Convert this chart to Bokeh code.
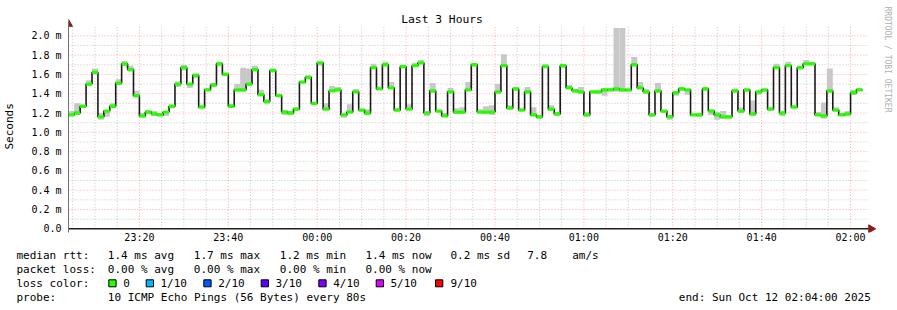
import numpy as np
import pandas as pd
from bokeh.plotting import figure
from bokeh.layouts import column
from bokeh.core.properties import value
from bokeh.models import (Range1d, FixedTicker, DatetimeTickFormatter, CustomJSTickFormatter,
                          ColumnDataSource)
from bokeh.embed import file_html
from bokeh.resources import INLINE

# ---------------- data ----------------
START = "2025-10-11 23:04:00"
STEP_SECONDS = 80

median_ms = [
    1.18, 1.20, 1.27, 1.50, 1.62, 1.16, 1.22, 1.27, 1.51, 1.71,
    1.65, 1.38, 1.17, 1.21, 1.19, 1.18, 1.21, 1.27, 1.50, 1.67,
    1.50, 1.59, 1.26, 1.44, 1.49, 1.71, 1.60, 1.27, 1.44, 1.44,
    1.50, 1.65, 1.39, 1.32, 1.64, 1.38, 1.21, 1.20, 1.24, 1.52,
    1.57, 1.30, 1.72, 1.24, 1.43, 1.44, 1.18, 1.21, 1.42, 1.23,
    1.20, 1.67, 1.45, 1.70, 1.46, 1.23, 1.68, 1.24, 1.69, 1.72,
    1.20, 1.43, 1.22, 1.17, 1.42, 1.21, 1.21, 1.44, 1.70, 1.21,
    1.21, 1.21, 1.42, 1.69, 1.25, 1.45, 1.23, 1.42, 1.18, 1.16,
    1.68, 1.24, 1.19, 1.69, 1.46, 1.43, 1.42, 1.18, 1.42, 1.42,
    1.44, 1.44, 1.45, 1.44, 1.44, 1.70, 1.46, 1.42, 1.18, 1.43,
    1.22, 1.16, 1.41, 1.45, 1.44, 1.18, 1.18, 1.45, 1.22, 1.18,
    1.16, 1.16, 1.43, 1.22, 1.44, 1.19, 1.42, 1.44, 1.24, 1.67,
    1.20, 1.69, 1.26, 1.67, 1.71, 1.71, 1.18, 1.17, 1.43, 1.23,
    1.18, 1.19, 1.41, 1.44,
]

smoke_lo_ms = [
    1.17, 1.18, 1.26, 1.48, 1.60, 1.13, 1.16, 1.25, 1.49, 1.69,
    1.64, 1.36, 1.15, 1.19, 1.17, 1.17, 1.17, 1.25, 1.47, 1.64,
    1.46, 1.56, 1.25, 1.43, 1.47, 1.69, 1.59, 1.26, 1.42, 1.42,
    1.48, 1.64, 1.37, 1.29, 1.63, 1.37, 1.18, 1.18, 1.22, 1.51,
    1.56, 1.29, 1.69, 1.23, 1.42, 1.42, 1.15, 1.20, 1.41, 1.22,
    1.18, 1.66, 1.44, 1.69, 1.45, 1.22, 1.67, 1.23, 1.68, 1.71,
    1.17, 1.41, 1.21, 1.16, 1.41, 1.19, 1.19, 1.43, 1.69, 1.20,
    1.19, 1.18, 1.40, 1.68, 1.24, 1.43, 1.22, 1.40, 1.17, 1.14,
    1.67, 1.22, 1.17, 1.67, 1.45, 1.41, 1.40, 1.16, 1.40, 1.40,
    1.38, 1.43, 1.42, 1.42, 1.42, 1.69, 1.45, 1.40, 1.16, 1.41,
    1.20, 1.13, 1.38, 1.43, 1.39, 1.17, 1.16, 1.43, 1.18, 1.13,
    1.14, 1.14, 1.41, 1.20, 1.42, 1.17, 1.39, 1.42, 1.22, 1.66,
    1.17, 1.68, 1.25, 1.65, 1.70, 1.70, 1.17, 1.14, 1.41, 1.22,
    1.17, 1.17, 1.39, 1.43,
]

smoke_hi_ms = [
    1.22, 1.30, 1.28, 1.54, 1.66, 1.20, 1.23, 1.30, 1.55, 1.74,
    1.69, 1.43, 1.20, 1.23, 1.22, 1.20, 1.22, 1.28, 1.53, 1.70,
    1.51, 1.61, 1.28, 1.46, 1.51, 1.73, 1.62, 1.29, 1.50, 1.67,
    1.66, 1.69, 1.44, 1.34, 1.66, 1.40, 1.23, 1.22, 1.26, 1.53,
    1.59, 1.31, 1.73, 1.30, 1.48, 1.47, 1.19, 1.29, 1.45, 1.24,
    1.24, 1.71, 1.47, 1.73, 1.52, 1.25, 1.70, 1.29, 1.72, 1.75,
    1.21, 1.51, 1.23, 1.20, 1.46, 1.25, 1.26, 1.52, 1.72, 1.24,
    1.27, 1.28, 1.50, 1.81, 1.28, 1.47, 1.25, 1.47, 1.26, 1.18,
    1.71, 1.28, 1.21, 1.71, 1.49, 1.45, 1.47, 1.21, 1.43, 1.43,
    1.46, 1.46, 2.08, 2.08, 1.45, 1.78, 1.52, 1.45, 1.20, 1.51,
    1.23, 1.18, 1.42, 1.47, 1.45, 1.19, 1.20, 1.47, 1.24, 1.21,
    1.22, 1.18, 1.45, 1.26, 1.45, 1.33, 1.43, 1.45, 1.26, 1.71,
    1.21, 1.73, 1.28, 1.69, 1.75, 1.73, 1.21, 1.31, 1.66, 1.26,
    1.20, 1.22, 1.44, 1.46,
]

x_tick_times = ["2025-10-11 23:20", "2025-10-11 23:40", "2025-10-12 00:00",
                "2025-10-12 00:20", "2025-10-12 00:40", "2025-10-12 01:00",
                "2025-10-12 01:20", "2025-10-12 01:40", "2025-10-12 02:00"]
y_ticks = [0.0, 0.2, 0.4, 0.6, 0.8, 1.0, 1.2, 1.4, 1.6, 1.8, 2.0]
y_minor_ticks = [0.1, 0.3, 0.5, 0.7, 0.9, 1.1, 1.3, 1.5, 1.7, 1.9]

legend_rows = [
    ["median rtt:", "1.4 ms avg", "1.7 ms max", "1.2 ms min", "1.4 ms now", "0.2 ms sd", "7.8", "am/s"],
    ["packet loss:", "0.00 % avg", "0.00 % max", "0.00 % min", "0.00 % now"],
    ["loss color:"],
    ["probe:", "10 ICMP Echo Pings (56 Bytes) every 80s", "end: Sun Oct 12 02:04:00 2025"],
]
loss_labels = ["0", "1/10", "2/10", "3/10", "4/10", "5/10", "9/10"]
loss_colors = ["#26ff00", "#00b8ff", "#0059ff", "#5e00ff", "#7e00ff", "#dd00ff", "#ff0000"]
title_text = "Last 3 Hours"
y_label = "Seconds"
side_text = "RRDTOOL / TOBI OETIKER"

# ---------------- layout (canvas pixels) ----------------
W, H = 897, 310
H1 = 248                       # main figure height; legend figure below
FL, FT, FB = 67, 0, 232        # main frame edges
CL, CR, CT, C0 = 67, 867, 25, 228   # rrd canvas: left, right, top, zero line
X0_PX = 66.8                   # pixel of START
PX_PER_MIN = 4.45
PX_PER_MS = 96.5
Y0_PX = 228.3
FONT = "DejaVu Sans Mono"
MIN_MS = 60000.0

t0_ms = pd.Timestamp(START).value / 1e6


def tx(px):
    return t0_ms + (px - X0_PX) / PX_PER_MIN * MIN_MS


def vy(py):
    return (Y0_PX - py) / PX_PER_MS


n = len(median_ms)
starts = np.array([t0_ms + i * STEP_SECONDS * 1000.0 for i in range(n)])
ends = starts + STEP_SECONDS * 1000.0
med = np.array(median_ms)

p = figure(width=W, height=H1, x_axis_type="datetime", title=None,
           x_range=Range1d(tx(FL), tx(W)), y_range=Range1d(vy(FB), vy(FT)),
           output_backend="svg", toolbar_location=None,
           min_border_left=FL, min_border_right=0,
           min_border_top=0, min_border_bottom=H1 - FB,
           background_fill_color="white", border_fill_color="white")
p.frame_align = False
p.outline_line_color = None
p.xgrid.visible = False
p.ygrid.visible = False

# axes
x_major = [pd.Timestamp(s).value / 1e6 for s in x_tick_times]
p.xaxis.ticker = FixedTicker(ticks=x_major)
p.yaxis.ticker = FixedTicker(ticks=y_ticks)
fmt = "%H:%M"
p.xaxis.formatter = DatetimeTickFormatter(seconds=fmt, minsec=fmt, minutes=fmt, hourmin=fmt,
                                          hours=fmt, days=fmt, boundary_scaling=False)
p.yaxis.formatter = CustomJSTickFormatter(code="return tick < 1e-9 ? '0.0' : tick.toFixed(1) + ' m';")
for ax in (p.xaxis, p.yaxis):
    ax.major_tick_out = 0
    ax.major_tick_in = 0
    ax.minor_tick_out = 0
    ax.minor_tick_in = 0
    ax.major_label_text_font = FONT
    ax.major_label_text_font_size = "10px"
    ax.major_label_text_color = "#000000"
p.xaxis.axis_line_color = None
p.xaxis.major_label_standoff = -1
p.yaxis.bounds = (vy(232), vy(21))
p.yaxis.axis_line_color = "#707070"
p.yaxis.major_label_standoff = 7
p.yaxis.axis_label = y_label + "   "
p.yaxis.axis_label_text_font = FONT
p.yaxis.axis_label_text_font_size = "11px"
p.yaxis.axis_label_text_font_style = "normal"
p.yaxis.axis_label_text_color = "#000000"
p.yaxis.axis_label_standoff = 12

# grid lines (limited to the rrd canvas)
x_minor = [t0_ms + m * MIN_MS for m in range(1, 181) if (m + 4) % 5 == 0 and (m + 4) % 20 != 0]
p.segment(x0=x_minor, y0=[0] * len(x_minor), x1=x_minor, y1=[vy(CT)] * len(x_minor),
          line_color="#a0a0a0", line_alpha=0.6, line_dash="1 2", line_width=1)
p.segment(x0=[tx(CL)] * len(y_minor_ticks), y0=y_minor_ticks, x1=[tx(CR)] * len(y_minor_ticks), y1=y_minor_ticks,
          line_color="#a0a0a0", line_alpha=0.6, line_dash="1 2", line_width=1)
p.segment(x0=x_major, y0=[0] * len(x_major), x1=x_major, y1=[vy(CT)] * len(x_major),
          line_color="#ff0000", line_alpha=0.35, line_dash="1 2", line_width=1)
yg = y_ticks[1:]
p.segment(x0=[tx(CL)] * len(yg), y0=yg, x1=[tx(CR)] * len(yg), y1=yg,
          line_color="#ff0000", line_alpha=0.35, line_dash="1 2", line_width=1)

# smoke
src = ColumnDataSource(dict(left=starts, right=ends, lo=smoke_lo_ms, hi=smoke_hi_ms,
                            mlo=med - 0.017, mhi=med + 0.017))
p.quad(left="left", right="right", bottom="lo", top="hi", source=src,
       fill_color="#c8c8c8", line_color=None)
# median step line
xs = list(starts) + [ends[-1]]
ys = list(med) + [med[-1]]
p.step(x=xs, y=ys, mode="after", line_color="#1a1a1a", line_width=1.6)
# loss-colored median marks
p.quad(left="left", right="right", bottom="mlo", top="mhi", source=src,
       fill_color=loss_colors[0], line_color=None)

# x axis (zero line) and arrows
p.segment(x0=[tx(CL)], y0=[0], x1=[tx(871)], y1=[0], line_color="#202020", line_width=1.5)
arrow_color = "#8a1c1c"
p.scatter(x=[tx(CL)], y=[vy(23.5)], marker="triangle", size=8, angle=0,
          fill_color=arrow_color, line_color=arrow_color)
p.scatter(x=[tx(870.5)], y=[0], marker="triangle", size=8, angle=-np.pi / 2,
          fill_color=arrow_color, line_color=arrow_color)

# title and side text
p.text(x=[tx(441)], y=[vy(19)], text=[title_text], text_font=value(FONT),
       text_font_size=value("11.3px"), text_align="center", text_baseline="middle", text_color="#000000")
p.text(x=[tx(887)], y=[vy(59)], text=[side_text], text_font=value(FONT), angle=-np.pi / 2,
       text_font_size=value("8px"), text_align="center", text_baseline="middle", text_color="#b0b0b0")

# ---------------- legend figure ----------------
H2 = H - H1
q = figure(width=W, height=H2, x_range=Range1d(0, W), y_range=Range1d(H, H1),
           output_backend="svg", toolbar_location=None, title=None,
           x_axis_location=None, y_axis_location=None,
           min_border_left=0, min_border_right=0, min_border_top=0, min_border_bottom=0,
           background_fill_color="white", border_fill_color="white")
q.frame_align = False
q.outline_line_color = None
q.xgrid.visible = False
q.ygrid.visible = False

row_y = [254.5, 268.5, 282.6, 296.5]
row_x = [[16, 107.3, 193.3, 279.3, 365, 450, 526.7, 571.7],
         [16, 107.3, 193.3, 279.3, 365],
         [16],
         [16, 107.3, 678.3]]
tx_, ty_, tt_ = [], [], []
for r, (texts, xs_) in enumerate(zip(legend_rows, row_x)):
    for t, X in zip(texts, xs_):
        tx_.append(X)
        ty_.append(row_y[r])
        tt_.append(t)
box_x = [108.3, 145.7, 203.3, 260.7, 318.3, 375.7, 435.0]
lab_x = [122.7, 160.0, 217.7, 275.0, 332.7, 390.0, 450.0]
for X, t in zip(lab_x, loss_labels):
    tx_.append(X)
    ty_.append(row_y[2])
    tt_.append(t)
q.text(x=tx_, y=ty_, text=tt_, text_font=value(FONT), text_font_size=value("11px"),
       text_align="left", text_baseline="middle", text_color="#000000")
q.quad(left=box_x, right=[b + 7.3 for b in box_x], top=[279.3] * 7, bottom=[286.3] * 7,
       fill_color=loss_colors, line_color="#000000", line_width=1)

layout = column(p, q, spacing=0)
open("out.html", "w").write(file_html(layout, INLINE))
